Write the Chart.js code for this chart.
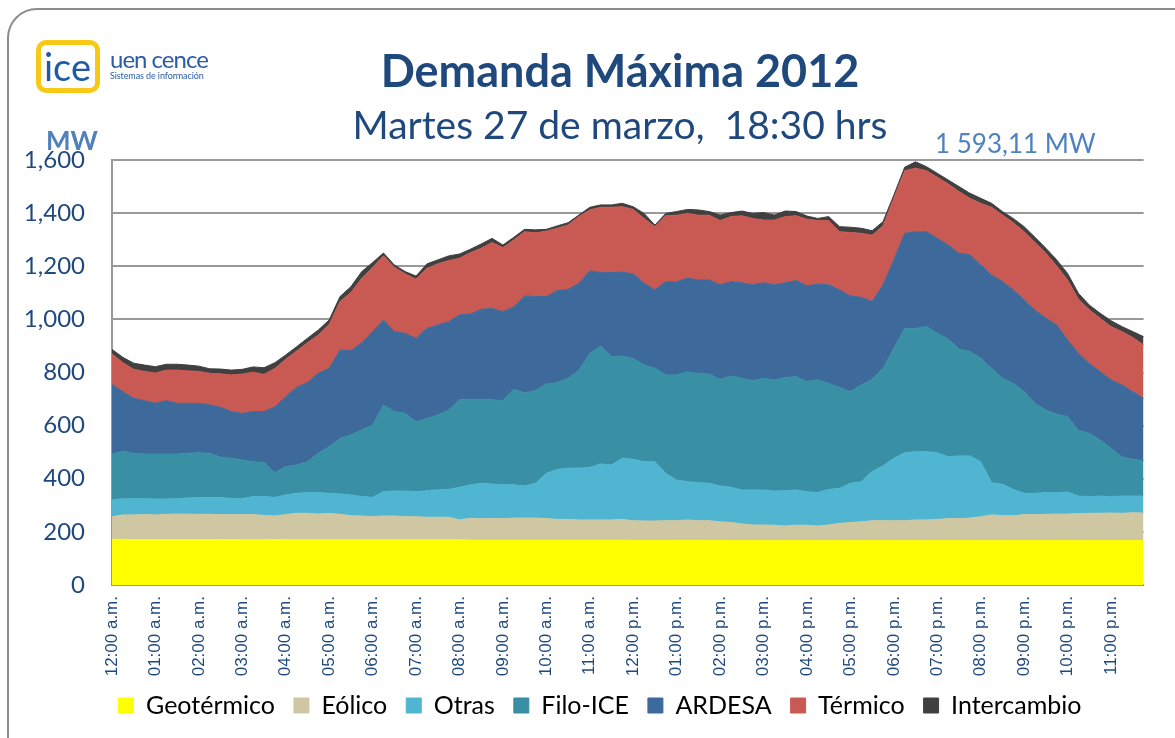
<!DOCTYPE html>
<html lang="es">
<head>
<meta charset="utf-8">
<title>Demanda Máxima 2012</title>
<script src="https://cdn.jsdelivr.net/npm/chart.js@4.4.1/dist/chart.umd.min.js"></script>
<style>
  html, body { margin: 0; padding: 0; background: #fff; overflow: hidden; }
  #marco { position: absolute; left: 7px; top: 8px; width: 1220px; height: 780px;
           border: 2px solid #8c8c8c; border-radius: 30px; box-sizing: border-box; }
  #grafico { position: absolute; left: 0; top: 0; }
  .txt { position: absolute; white-space: pre; line-height: 1; font-family: Lato, sans-serif; }
  #titulo { left: 270px; width: 700px; top: 48px; text-align: center; font-size: 45px; font-weight: bold; color: #1F497D; }
  #subtitulo { left: 270px; width: 700px; top: 105px; text-align: center; font-size: 39px; color: #1F497D; }
  #mw { left: 46px; top: 127px; font-size: 26px; font-weight: bold; color: #4F81BD; }
  #maximo { left: 935px; top: 130px; font-size: 26px; color: #4F81BD; }
  #logo { position: absolute; left: 36px; top: 40px; width: 64px; height: 53px; box-sizing: border-box;
          border: 5px solid #F7C815; border-radius: 10px; }
  #logo span { position: absolute; left: 3px; top: 2px; font-family: Lato, sans-serif; font-size: 38px; color: #1F5AA6; line-height: 1; }
  #uen { left: 110px; top: 47px; font-size: 24px; letter-spacing: -1px; color: #2A5CA8; }
  #sis { left: 110px; top: 71px; font-size: 9px; color: #2A5CA8; letter-spacing: -0.1px; }
</style>
</head>
<body>
<div id="marco"></div>
<canvas id="grafico" width="1175" height="738"></canvas>
<div id="logo"><span>ice</span></div>
<div class="txt" id="uen">uen cence</div>
<div class="txt" id="sis">Sistemas de información</div>
<div class="txt" id="titulo">Demanda Máxima 2012</div>
<div class="txt" id="subtitulo">Martes 27 de marzo,  18:30 hrs</div>
<div class="txt" id="mw">MW</div>
<div class="txt" id="maximo">1 593,11 MW</div>
<script>
// cuartos de hora del día
const cuartos = [
  "00:00","00:15","00:30","00:45","01:00","01:15","01:30","01:45","02:00","02:15","02:30","02:45",
  "03:00","03:15","03:30","03:45","04:00","04:15","04:30","04:45","05:00","05:15","05:30","05:45",
  "06:00","06:15","06:30","06:45","07:00","07:15","07:30","07:45","08:00","08:15","08:30","08:45",
  "09:00","09:15","09:30","09:45","10:00","10:15","10:30","10:45","11:00","11:15","11:30","11:45",
  "12:00","12:15","12:30","12:45","13:00","13:15","13:30","13:45","14:00","14:15","14:30","14:45",
  "15:00","15:15","15:30","15:45","16:00","16:15","16:30","16:45","17:00","17:15","17:30","17:45",
  "18:00","18:15","18:30","18:45","19:00","19:15","19:30","19:45","20:00","20:15","20:30","20:45",
  "21:00","21:15","21:30","21:45","22:00","22:15","22:30","22:45","23:00","23:15","23:30","23:45"
];

// etiquetas del eje (una por hora)
const etiquetasHora = [
  "12:00 a.m.","01:00 a.m.","02:00 a.m.","03:00 a.m.","04:00 a.m.","05:00 a.m.",
  "06:00 a.m.","07:00 a.m.","08:00 a.m.","09:00 a.m.","10:00 a.m.","11:00 a.m.",
  "12:00 p.m.","01:00 p.m.","02:00 p.m.","03:00 p.m.","04:00 p.m.","05:00 p.m.",
  "06:00 p.m.","07:00 p.m.","08:00 p.m.","09:00 p.m.","10:00 p.m.","11:00 p.m."
];

// MW por fuente
const geotermico = [
  172,172,171,171,171,171,171,171,171,171,171,171,
  170,170,170,171,170,170,170,170,170,170,170,170,
  170,170,170,170,170,170,170,170,170,169,169,169,
  169,169,169,169,169,169,169,169,169,169,169,169,
  168,168,168,168,168,168,168,168,168,167,167,167,
  167,167,167,167,167,167,167,167,167,167,167,167,
  167,167,167,167,167,167,167,167,167,167,167,167,
  167,167,167,167,167,167,167,167,167,167,167,167
];
const eolico = [
  85,92,93,94,93,95,96,96,95,95,94,94,
  95,95,92,89,95,100,100,97,100,96,91,90,
  87,90,90,87,87,85,85,85,75,82,81,81,
  81,83,83,83,81,78,78,76,76,76,76,78,
  74,73,73,74,74,77,74,74,70,68,63,59,
  59,58,55,58,58,55,59,65,68,71,75,75,
  75,75,78,78,80,83,83,85,90,97,94,94,
  98,98,99,100,100,102,103,103,104,103,105,104
];
const otras = [
  63,61,61,60,60,58,58,61,63,63,64,61,
  60,68,71,70,74,75,78,81,75,77,78,73,
  73,91,94,97,94,100,103,105,123,126,133,130,
  127,125,121,131,170,188,193,195,198,211,207,230,
  231,223,223,178,153,144,143,141,135,133,128,132,
  132,129,133,133,126,126,134,132,148,151,185,206,
  235,256,257,257,251,233,236,234,207,121,118,99,
  80,80,82,81,83,66,63,65,62,65,63,64
];
const filoICE = [
  173,179,171,168,169,169,168,168,169,167,152,151,
  146,131,128,93,107,107,116,148,176,209,226,251,
  272,327,299,292,264,272,282,299,329,320,314,317,
  317,360,351,349,337,327,338,369,429,444,408,385,
  380,364,352,371,396,414,412,411,401,419,420,412,
  420,418,426,427,415,424,399,380,345,364,348,367,
  414,468,464,471,450,443,402,393,390,431,399,399,
  383,339,311,295,284,246,238,211,182,148,138,133
];
const ardesa = [
  262,224,207,201,191,201,191,188,186,182,188,176,
  175,189,192,248,263,292,298,301,295,333,317,328,
  352,320,301,301,314,339,339,332,320,323,341,344,
  335,311,364,354,329,346,335,327,311,276,316,316,
  318,308,295,351,351,352,351,354,356,355,360,360,
  360,358,357,361,360,361,371,367,360,330,292,315,
  333,358,364,357,357,354,361,364,351,351,364,352,
  345,351,345,336,288,291,263,257,257,270,255,235
];
const termico = [
  115,109,109,110,114,115,125,122,120,119,126,138,
  148,148,140,144,141,137,150,144,165,182,219,243,
  242,241,242,224,222,226,230,230,213,231,230,248,
  241,251,242,240,246,235,242,251,229,246,246,246,
  243,244,238,248,250,244,244,244,242,245,252,250,
  236,244,249,244,251,239,242,219,239,241,250,222,
  232,236,239,230,230,230,232,213,232,255,251,253,
  257,254,245,222,226,204,202,201,201,201,204,201
];
const intercambio = [
  17,20,23,24,24,22,22,22,20,17,18,18,
  18,20,25,22,16,16,17,19,17,19,22,25,
  18,11,9,9,12,17,15,18,16,13,16,16,
  10,10,9,11,7,9,9,6,10,9,9,13,
  10,19,6,9,14,15,20,14,21,15,18,19,
  28,19,21,16,12,8,15,19,20,19,17,16,
  12,13,24.11,15,15,15,19,19,19,15,13,16,
  19,20,19,23,25,22,18,19,22,19,22,31
];

const fuentes = [
  { nombre: "Geotérmico",  datos: geotermico,  color: "#FFFF00" },
  { nombre: "Eólico",      datos: eolico,      color: "#CEC7A1" },
  { nombre: "Otras",       datos: otras,       color: "#50B5D1" },
  { nombre: "Filo-ICE",    datos: filoICE,     color: "#398FA4" },
  { nombre: "ARDESA",      datos: ardesa,      color: "#3E699B" },
  { nombre: "Térmico",     datos: termico,     color: "#C95A53" },
  { nombre: "Intercambio", datos: intercambio, color: "#404040" }
];

const azul = "#1F497D";
const gris = "#999999";

// la leyenda va un poco a la derecha y arriba, como en la lámina original
const moverLeyenda = {
  id: "moverLeyenda",
  afterLayout: function (chart) {
    const lg = chart.legend;
    lg.left += 23; lg.right += 23;
    lg.top -= 5; lg.bottom -= 5;
  }
};

new Chart(document.getElementById("grafico"), {
  type: "line",
  data: {
    labels: cuartos,
    datasets: fuentes.map(function (f, i) {
      return {
        label: f.nombre,
        data: f.datos,
        backgroundColor: f.color,
        borderColor: f.color,
        borderWidth: 1,
        pointRadius: 0,
        tension: 0,
        fill: i === 0 ? "origin" : "-1"
      };
    })
  },
  options: {
    responsive: false,
    animation: false,
    locale: "en-US",
    layout: { padding: { top: 160, left: 0, right: 21, bottom: 5 } },
    plugins: {
      legend: {
        position: "bottom",
        labels: {
          color: "#000",
          font: { family: "Lato", size: 25 },
          boxWidth: 15,
          boxHeight: 15,
          padding: 19
        }
      },
      tooltip: { enabled: false }
    },
    scales: {
      x: {
        grid: { display: false, drawTicks: false },
        border: { display: true, color: gris, width: 2 },
        ticks: {
          autoSkip: false,
          maxRotation: 90,
          minRotation: 90,
          padding: 11,
          color: azul,
          font: { family: "Liberation Sans", size: 17 },
          callback: function (v, i) { return i % 4 === 0 ? etiquetasHora[i / 4] : ""; }
        },
        afterFit: function (s) { s.height = 94; }
      },
      y: {
        stacked: true,
        min: 0,
        max: 1600,
        ticks: { stepSize: 200, padding: 27, color: azul, font: { family: "Lato", size: 24 } },
        grid: { color: gris, lineWidth: 2, drawTicks: false },
        border: { display: true, color: gris, width: 2 },
        afterFit: function (s) { s.width = 112; }
      }
    }
  },
  plugins: [moverLeyenda]
});
</script>
</body>
</html>
